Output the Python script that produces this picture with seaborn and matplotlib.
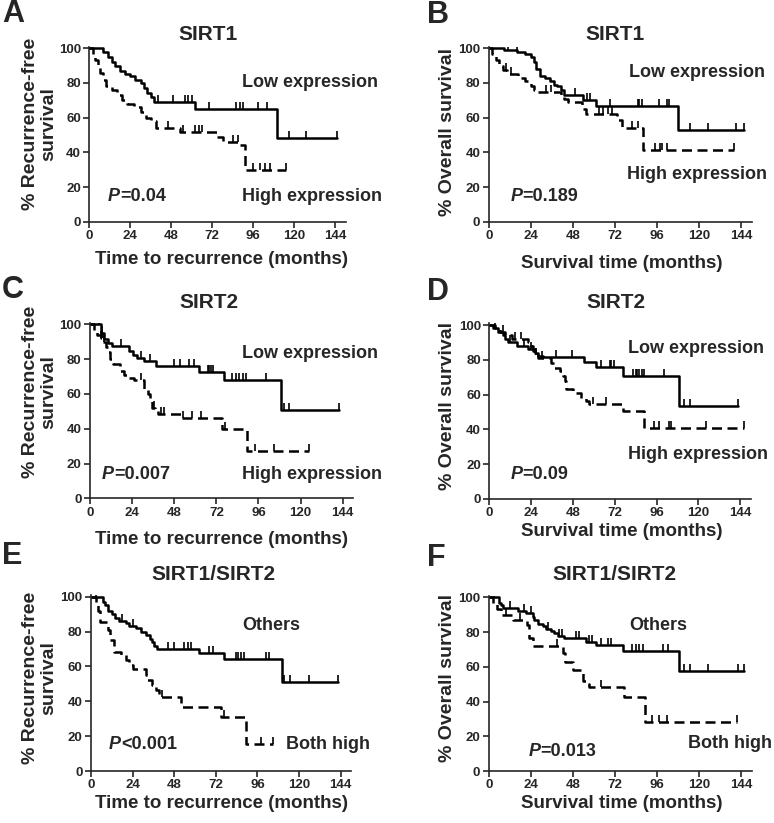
import numpy as np
import matplotlib
matplotlib.use("Agg")
import matplotlib.pyplot as plt
import seaborn as sns
import pandas as pd

# ---------------- data ----------------
# Panel A: recurrence-free survival, SIRT1
A_low_t = [0, 8, 11, 13, 15, 18, 21, 24, 27, 30, 32, 34, 36, 38, 62, 110, 145]
A_low_s = [100, 98, 95, 92, 90, 87, 85, 84, 82, 80, 77, 74, 72, 69, 65, 48.5, 48.5]
A_low_c = [40, 49, 56, 58, 60, 70, 86, 88, 90, 99, 104, 117, 127, 145]
A_high_t = [0, 2, 3.5, 5, 6.5, 8, 10, 13, 16, 19, 22, 26, 30, 33, 36, 39, 53, 75, 78, 88, 91, 115]
A_high_s = [100, 97, 93, 90, 86, 82, 78, 76, 73, 70, 68, 66, 63, 60, 58, 54, 51.7, 48.8, 46, 44, 30, 30]
A_high_c = [46, 55, 62, 64, 66, 84, 87, 96, 100, 103, 106, 115]

# Panel B: overall survival, SIRT1
B_low_t = [0, 9, 16, 21, 24, 26, 27, 29, 32, 35, 37, 39, 41, 43, 54, 61, 108, 146]
B_low_s = [100, 99, 98, 97, 95, 92, 88, 84, 83, 81, 79, 78, 76, 73, 70, 66.5, 53, 53]
B_low_c = [11, 16, 49, 56, 58, 69, 85, 86, 87.5, 97, 102, 103, 115, 125, 141, 146]
B_high_t = [0, 2, 4, 6, 8, 10.5, 17, 21, 24, 26, 28, 41, 43, 45.5, 53.5, 55.5, 73.5, 76.3, 88, 140]
B_high_s = [100, 97, 93, 90, 87.5, 85, 83, 81, 78, 76, 74.8, 72, 70.5, 69, 65, 62.3, 58.5, 54, 41.3, 41.3]
B_high_c = [10, 12.5, 32.6, 35.4, 63, 65, 68, 70.6, 82, 85, 95, 98, 99, 102, 140]

# Panel C: recurrence-free survival, SIRT2
C_low_t = [0, 6.5, 8, 10, 12.5, 22.4, 24.3, 27, 31, 37.6, 62, 76.5, 109, 142]
C_low_s = [100, 95, 91.5, 89.5, 87.5, 84.5, 82.6, 80.7, 78.7, 75.9, 72.5, 68, 51, 51]
C_low_c = [5, 7, 17.7, 29, 34, 48, 51, 56.6, 59.4, 67, 68, 69, 70, 81, 83, 85, 87, 89, 100, 110.7, 113.6, 142]
C_high_t = [0, 2.5, 4, 6, 7.5, 9, 10.5, 11.5, 13, 17, 19.5, 22, 25, 31, 33, 34, 35.5, 37, 39, 52.5, 75, 89.5, 125]
C_high_s = [100, 97, 94, 92, 90, 87, 84, 80, 77, 73, 71, 69, 68, 63, 60, 56, 52, 50, 48.5, 46, 40, 27, 27]
C_high_c = [6, 7, 8, 29, 36.5, 40.5, 42.4, 52.8, 58.1, 63.2, 77, 94, 105, 125]

# Panel D: overall survival, SIRT2
D_low_t = [0, 2, 5, 8, 9, 11, 16, 22, 26, 28, 30.6, 54.5, 61.2, 76.5, 109, 142.5]
D_low_s = [100, 98, 96, 94, 92, 90, 88, 86, 84, 82, 81.4, 79, 75.7, 70.7, 53.3, 53.3]
D_low_c = [3, 12, 20, 24, 38.3, 47.5, 64, 69, 70, 71.5, 82.3, 84, 85, 86, 87.5, 89, 100.4, 111.9, 115.1, 142.5]
D_high_t = [0, 3, 6, 9, 13, 22, 24, 25, 26, 28, 35.4, 37.4, 40.3, 42.2, 43.5, 44, 47.8, 52.6, 55.4, 57.3, 76.5, 88.9, 146.3]
D_high_s = [100, 98, 96, 94, 92, 90, 88, 85, 83, 81, 78, 75.3, 73.4, 70.5, 67.7, 63.4, 60.9, 58, 56.1, 54.6, 50.4, 40.8, 40.8]
D_high_c = [8, 15, 18, 27, 30, 59.3, 67, 94.7, 97.5, 103.3, 104.2, 124.3, 146.3]

# Panel E: recurrence-free survival, SIRT1/SIRT2
E_low_t = [0, 7, 8, 10, 12, 14, 16, 20, 22, 26, 29, 32, 34, 35, 36.5, 38, 62, 76.5, 110, 142.6]
E_low_s = [100, 97, 95, 92, 90, 88, 86, 85, 83, 82, 80, 78, 76, 74, 72, 70, 67.8, 64, 51, 51]
E_low_c = [3, 18, 24, 44.2, 48, 53.8, 55.8, 57.7, 68.2, 70.2, 83.6, 85, 86.5, 88.4, 100.9, 102.5, 111.5, 114.8, 125.5, 142.6]
E_high_t = [0, 2.9, 4, 5, 10, 11, 13.4, 17.3, 20.2, 22, 24, 31.5, 32.4, 35.3, 37.2, 39.1, 51.9, 75, 89.4, 105]
E_high_s = [100, 96, 92, 85.7, 81, 75.3, 68.5, 66.6, 63.7, 60.9, 58.3, 55, 52.2, 49.3, 46.6, 42.5, 36.9, 31.2, 15.5, 15.5]
E_high_c = [41, 76.5, 98, 105]

# Panel F: overall survival, SIRT1/SIRT2
F_low_t = [0, 6.1, 7, 8.4, 16.6, 21.3, 25.1, 26, 28, 30.8, 32.7, 35.5, 37.5, 39.3, 43.2, 55.5, 61.2, 76.5, 108.8, 145.9]
F_low_s = [100, 97, 95.6, 93.7, 92.3, 90.8, 88.9, 87, 84.5, 83.3, 81.8, 80.5, 79.2, 77.8, 76.4, 74.5, 72.6, 68.8, 57.6, 57.6]
F_low_c = [3, 12, 20, 24, 34, 40, 42, 49.8, 51.7, 57, 59, 64, 68, 70, 82, 84, 86, 88, 99.3, 102.2, 111.6, 114.9, 125, 142.1, 145.9]
F_high_t = [0, 2.6, 4.5, 7, 14, 22, 23, 25, 42.2, 43.5, 47.9, 53.6, 55.5, 57, 77, 89, 141.7]
F_high_s = [100, 96, 93, 90, 87, 84, 76.4, 72, 68, 62.5, 58.2, 52, 50, 48.5, 42.4, 28, 28]
F_high_c = [10, 18, 39, 64, 93, 97, 101.8, 141.7]

panel_letters = ["A", "B", "C", "D", "E", "F"]
titles = ["SIRT1", "SIRT1", "SIRT2", "SIRT2", "SIRT1/SIRT2", "SIRT1/SIRT2"]
ylabels = ["% Recurrence-free\nsurvival", "% Overall survival"] * 3
xlabels = ["Time to recurrence (months)", "Survival time (months)"] * 3
upper_labels = ["Low expression"] * 4 + ["Others"] * 2
lower_labels = ["High expression"] * 4 + ["Both high"] * 2
p_labels = ["=0.04", "=0.189", "=0.007", "=0.09", "<0.001", "=0.013"]
x_ticks = [0, 24, 48, 72, 96, 120, 144]
y_ticks = [0, 20, 40, 60, 80, 100]

curves = [
    (A_low_t, A_low_s, A_low_c, A_high_t, A_high_s, A_high_c),
    (B_low_t, B_low_s, B_low_c, B_high_t, B_high_s, B_high_c),
    (C_low_t, C_low_s, C_low_c, C_high_t, C_high_s, C_high_c),
    (D_low_t, D_low_s, D_low_c, D_high_t, D_high_s, D_high_c),
    (E_low_t, E_low_s, E_low_c, E_high_t, E_high_s, E_high_c),
    (F_low_t, F_low_s, F_low_c, F_high_t, F_high_s, F_high_c),
]

# ---------------- layout (pixels) ----------------
W, H = 774, 823
# left px, px per month, y px at 100, y px at 0
axes_px = [
    (89.3, 1.708, 48.3, 221.7),
    (488.7, 1.752, 48.3, 221.7),
    (90.0, 1.755, 324.3, 498.3),
    (489.3, 1.743, 325.0, 499.0),
    (91.0, 1.734, 596.7, 771.0),
    (488.7, 1.752, 597.3, 771.0),
]
XMAX, YMAX = 150, 101
letter_pos = [(2, 14), (427, 15), (2, 290), (427, 292), (2, 556), (427, 558)]
title_pos = [(208, 34), (615, 34), (209, 302), (616, 302), (213, 575), (614, 575)]
ylabel_pos = [(40, 124), (447, 132), (40, 392), (447, 406), (40, 678), (447, 678)]
xlabel_pos = [(221, 259), (622, 263), (221, 539), (622, 531), (221, 804), (622, 804)]
upper_pos = [(89.5, 80.5), (80, 85.8), (86.4, 83), (79.4, 86.6), (87.3, 83.2), (80, 83.5)]
lower_pos = [(89.5, 14.4), (79, 27), (86.4, 13.4), (79.4, 25.3), (112.5, 15.3), (113.6, 16)]
p_pos = [(11, 14.4), (12.4, 14.4), (6.7, 13.4), (12, 13.9), (10.4, 15.3), (22.8, 11.5)]

sns.set_style("ticks")
plt.rcParams['font.family'] = ['Liberation Sans', 'DejaVu Sans']
plt.rcParams['font.weight'] = 'bold'
plt.rcParams['axes.linewidth'] = 1.2

fig = plt.figure(figsize=(W / 100, H / 100), dpi=100)


def fx(x):
    return x / W


def fy(y):
    return 1 - y / H


def step_val(t, s, x):
    idx = np.searchsorted(np.asarray(t), np.asarray(x), side='right') - 1
    return np.asarray(s)[np.clip(idx, 0, len(s) - 1)]


for i in range(6):
    left, ppm, ytop, ybot = axes_px[i]
    pph = (ybot - ytop) / 100.0
    rect = [fx(left), fy(ybot), (XMAX * ppm) / W, (YMAX * pph) / H]
    ax = fig.add_axes(rect)
    lt, ls, lc, ht, hs, hc = curves[i]

    df_low = pd.DataFrame({"t": lt, "s": ls})
    df_high = pd.DataFrame({"t": ht, "s": hs})
    sns.lineplot(data=df_low, x="t", y="s", ax=ax, estimator=None, sort=False,
                 drawstyle="steps-post", color="black", linewidth=1.8)
    sns.lineplot(data=df_high, x="t", y="s", ax=ax, estimator=None, sort=False,
                 drawstyle="steps-post", color="black", linewidth=1.8,
                 linestyle=(0, (4.0, 2.2)))
    ax.plot(lc, step_val(lt, ls, lc), linestyle="none", marker=2, markersize=5,
            markeredgewidth=1.2, color="black")
    ax.plot(hc, step_val(ht, hs, hc), linestyle="none", marker=2, markersize=5,
            markeredgewidth=1.2, color="black")

    ax.set_xlim(0, XMAX)
    ax.set_ylim(0, YMAX)
    ax.set_xticks(x_ticks)
    ax.set_yticks(y_ticks)
    ax.tick_params(direction="out", length=4, width=1.2, labelsize=9.5, pad=2)
    for lab in ax.get_xticklabels() + ax.get_yticklabels():
        lab.set_fontweight("bold")
    ax.set_xlabel("")
    ax.set_ylabel("")
    sns.despine(ax=ax)

    ax.text(upper_pos[i][0], upper_pos[i][1], upper_labels[i], fontsize=13,
            fontweight="bold", ha="left", va="center", clip_on=False)
    ax.text(lower_pos[i][0], lower_pos[i][1], lower_labels[i], fontsize=13,
            fontweight="bold", ha="left", va="center", clip_on=False)
    pt = ax.text(p_pos[i][0], p_pos[i][1], "P", fontsize=13, fontweight="bold",
                 fontstyle="italic", ha="left", va="center")
    ax.annotate(p_labels[i], xy=(1, 0.5), xycoords=pt, fontsize=13,
                fontweight="bold", ha="left", va="center")

    fig.text(fx(letter_pos[i][0]), fy(letter_pos[i][1]), panel_letters[i],
             fontsize=22, fontweight="bold", ha="left", va="center")
    fig.text(fx(title_pos[i][0]), fy(title_pos[i][1]), titles[i],
             fontsize=15, fontweight="bold", ha="center", va="center")
    fig.text(fx(ylabel_pos[i][0]), fy(ylabel_pos[i][1]), ylabels[i],
             fontsize=14, fontweight="bold", ha="center", va="center",
             rotation=90, multialignment="center", linespacing=1.1)
    fig.text(fx(xlabel_pos[i][0]), fy(xlabel_pos[i][1]), xlabels[i],
             fontsize=13.5, fontweight="bold", ha="center", va="center")

fig.savefig("out.png", dpi=100)
